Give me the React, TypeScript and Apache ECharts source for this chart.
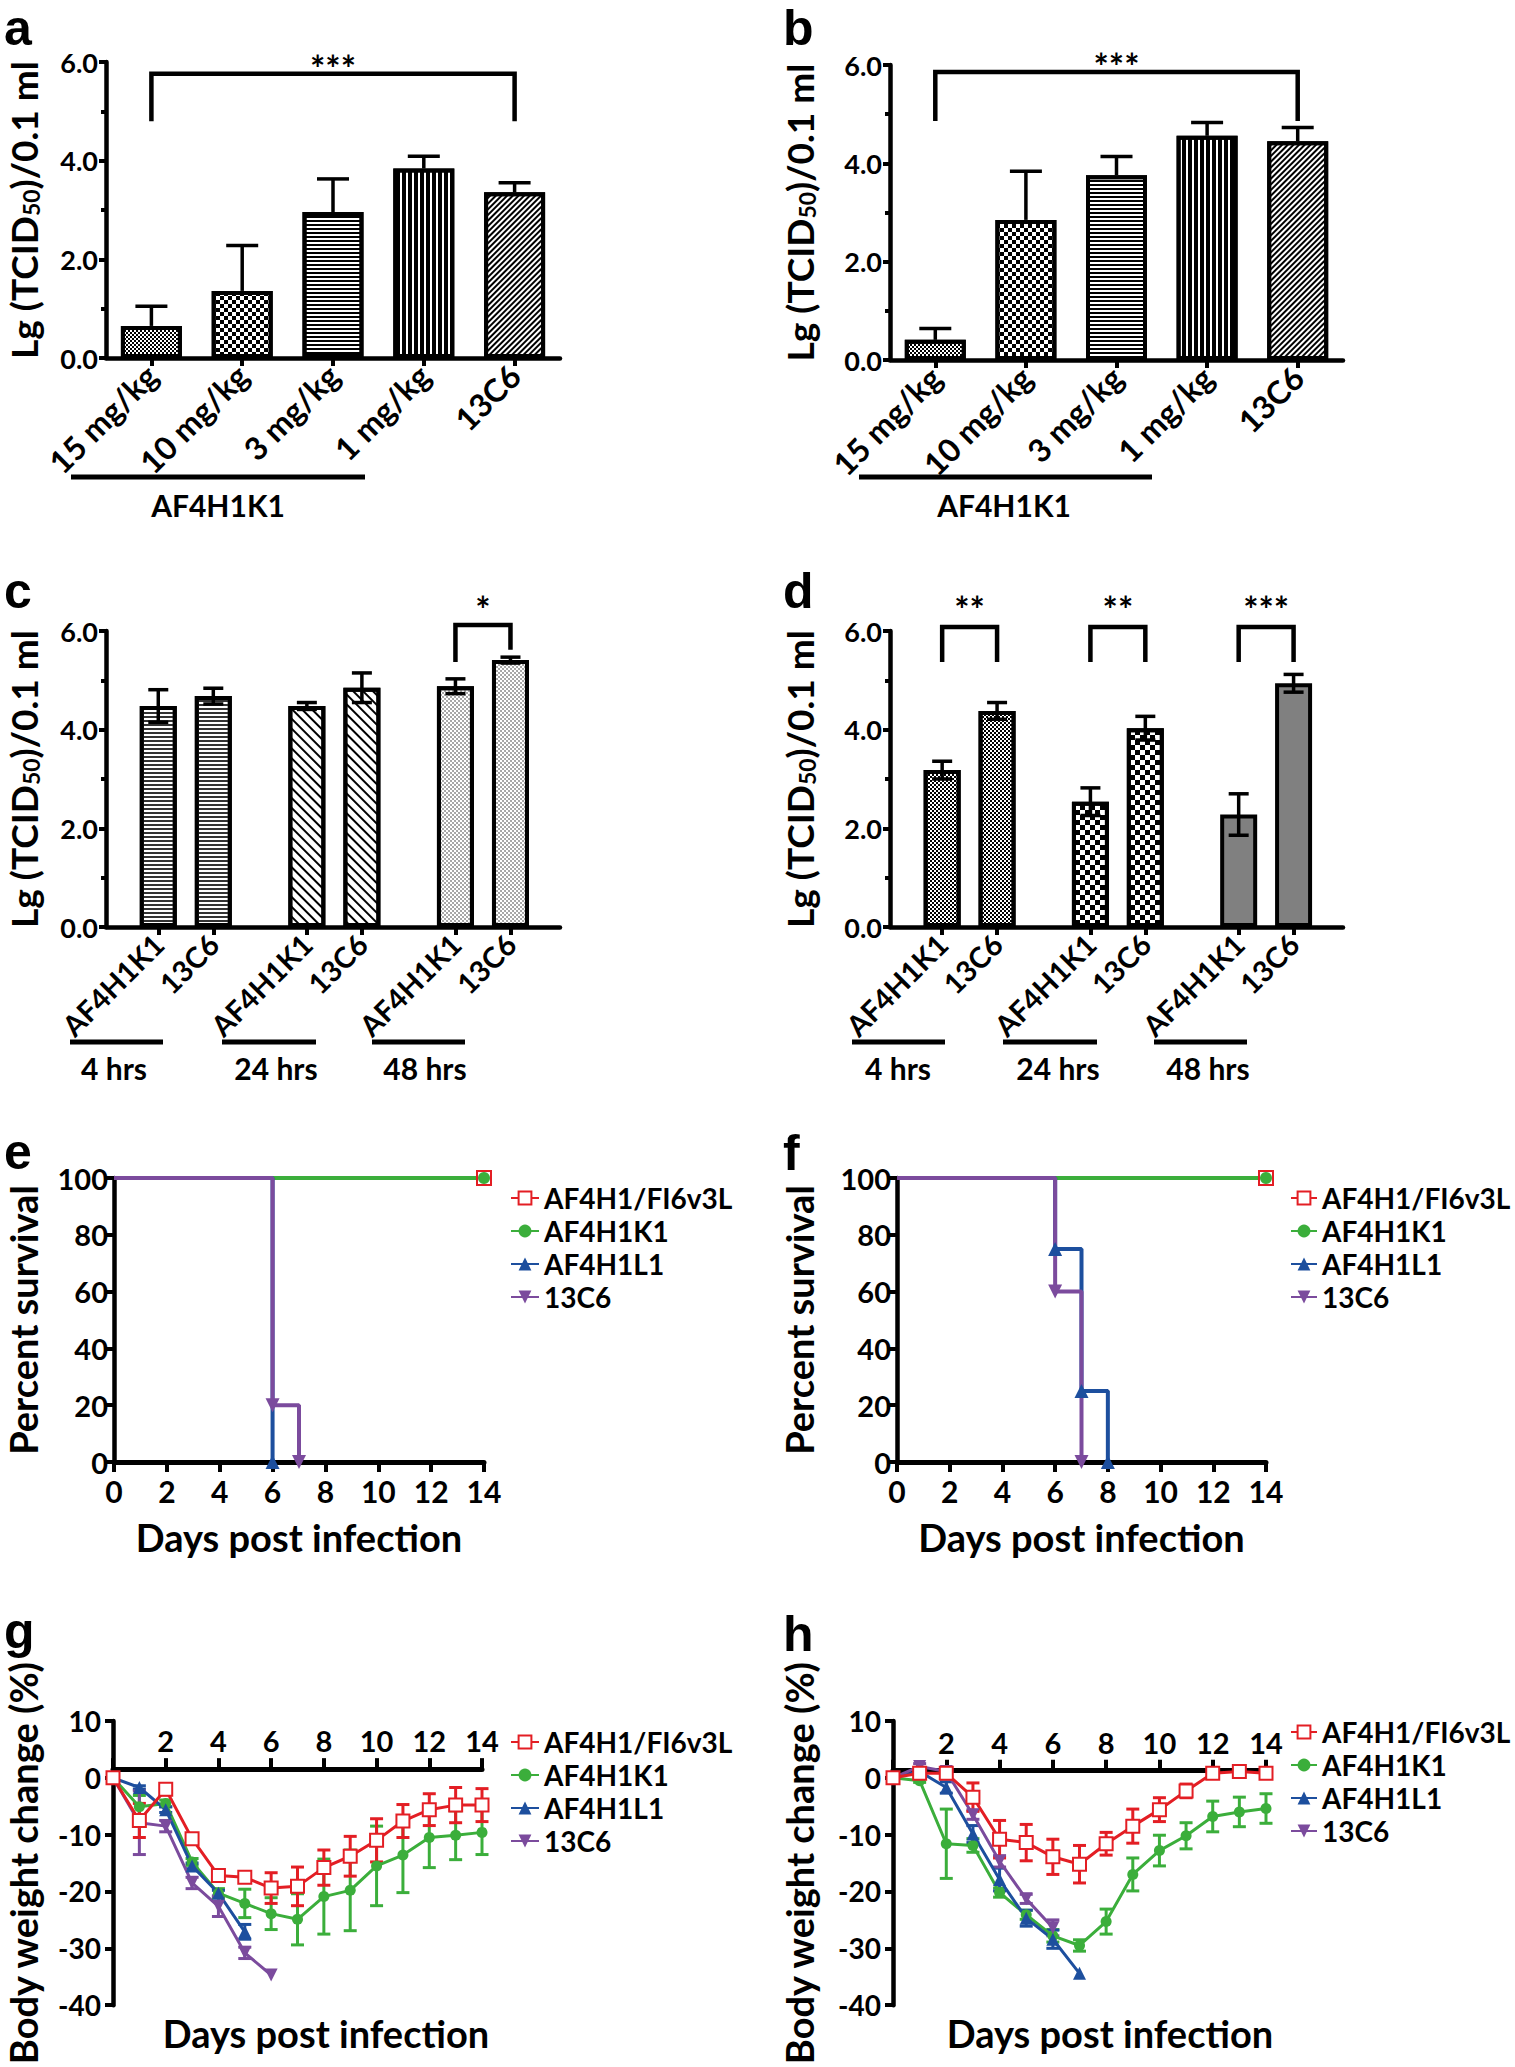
import React, { useEffect, useRef } from 'react';
import * as echarts from 'echarts';

const FONT = 'Lato';
const LETTER_FONT = 'Liberation Sans';
const INK = '#000';

// ---------- panels a & b : dose response ----------
const doseCategories = ['15 mg/kg', '10 mg/kg', '3 mg/kg', '1 mg/kg', '13C6'];
const aMeans = [0.65, 1.36, 2.96, 3.84, 3.36];
const aErrors = [0.4, 0.92, 0.67, 0.25, 0.19];
const bMeans = [0.41, 2.85, 3.76, 4.56, 4.45];
const bErrors = [0.23, 0.99, 0.38, 0.27, 0.28];
// [from category, to category, bracket top, left leg end, right leg end]
const aBrackets = [[0, 4, 5.76, 4.8, 4.8]];
const aStars = ['***'];
const bBrackets = [[0, 4, 5.86, 4.86, 4.86]];
const bStars = ['***'];

// ---------- panels c & d : time course ----------
const timeGroups = ['4 hrs', '24 hrs', '48 hrs'];
const antibodies = ['AF4H1K1', '13C6'];
const cK1Means = [4.48, 4.48, 4.88];
const cK1Errors = [0.33, 0.07, 0.15];
const c13C6Means = [4.68, 4.85, 5.41];
const c13C6Errors = [0.16, 0.3, 0.06];
const dK1Means = [3.18, 2.54, 2.28];
const dK1Errors = [0.18, 0.28, 0.42];
const d13C6Means = [4.38, 4.03, 4.94];
const d13C6Errors = [0.17, 0.24, 0.18];
// [group, bracket top, left leg end, right leg end]
const cBrackets = [[2, 6.12, 5.37, 5.62]];
const cStars = ['*'];
const dBrackets = [
  [0, 6.08, 5.37, 5.37],
  [1, 6.08, 5.37, 5.37],
  [2, 6.08, 5.37, 5.37],
];
const dStars = ['**', '**', '***'];

// ---------- panels e & f : survival ----------
const treatmentNames = ['AF4H1/FI6v3L', 'AF4H1K1', 'AF4H1L1', '13C6'];
const eFI6v3L = [[0, 100], [14, 100]];
const eK1 = [[0, 100], [14, 100]];
const eL1 = [[0, 100], [6, 0]];
const e13C6 = [[0, 100], [6, 20], [7, 0]];
const fFI6v3L = [[0, 100], [14, 100]];
const fK1 = [[0, 100], [14, 100]];
const fL1 = [[0, 100], [6, 75], [7, 25], [8, 0]];
const f13C6 = [[0, 100], [6, 60], [7, 0]];

// ---------- panels g & h : body weight ----------
const weightDays = [0, 1, 2, 3, 4, 5, 6, 7, 8, 9, 10, 11, 12, 13, 14];
const weightMin = -40;
const weightMax = 10;
const gFI6v3L = [0, -7.5, -2, -10.7, -17.2, -17.5, -19.4, -19.1, -15.8, -13.8, -11, -7.6, -5.6, -4.8, -4.8];
const gFI6v3LErr = [0, 3, 1, 0.6, 0.6, 0.8, 2.7, 3.4, 3.1, 3.5, 3.8, 2.9, 2.8, 3.1, 2.9];
const gK1 = [0, -5.1, -4.5, -14.8, -20.3, -22.1, -23.9, -24.9, -20.9, -19.8, -15.5, -13.6, -10.5, -10.1, -9.6];
const gK1Err = [0, 2, 0.6, 0.6, 0.8, 2.5, 2.8, 4.5, 6.6, 7.1, 7, 6.6, 5.3, 4.3, 3.9];
const gL1 = [0, -1.7, -5.6, -15.5, -20.3, -27.1];
const gL1Err = [0, 0.3, 0.5, 0.5, 0.5, 1.3];
const g13C6 = [0, -7.9, -8.5, -18.5, -22.6, -30.8, -34.7];
const g13C6Err = [0, 5.6, 1, 1, 1.8, 1, 0];
const hFI6v3L = [0, 0.8, 0.8, -3.4, -10.8, -11.4, -13.9, -15.2, -11.6, -8.5, -5.6, -2.3, 0.8, 1.1, 0.8];
const hFI6v3LErr = [0, 0.5, 0.5, 2.5, 3.3, 3.2, 3.1, 3.3, 2, 3, 2.1, 1.2, 0.6, 0.6, 0.6];
const hK1 = [0, -0.5, -11.6, -11.9, -20.2, -24.1, -27.8, -29.5, -25.3, -17, -12.8, -10.2, -6.8, -6, -5.4];
const hK1Err = [0, 0.3, 6.1, 1.2, 0.8, 0.8, 1.1, 1, 2.2, 2.9, 2.7, 2.3, 2.7, 2.6, 2.6];
const hL1 = [0, 1.1, -1.7, -9.9, -17.9, -24.7, -28.4, -34.4];
const hL1Err = [0, 0.3, 1, 1.5, 2, 1.4, 1.6, 0];
const h13C6 = [0, 2, 1.1, -6.5, -14.7, -21.3, -26.4];
const h13C6Err = [0, 0.5, 0.5, 0.8, 1, 0.8, 1.4];

// ---------- styling ----------
const seriesStyles = [
  { color: '#e31e24', symbol: 'emptyRect', size: 13, rotate: 0 },
  { color: '#3bae3b', symbol: 'circle', size: 11, rotate: 0 },
  { color: '#1d4f9e', symbol: 'triangle', size: 13, rotate: 0 },
  { color: '#7b4b9d', symbol: 'triangle', size: 13, rotate: 180 },
];

const decal = (o: any) => ({
  symbol: 'rect', symbolSize: 1, symbolKeepAspect: false, color: INK,
  backgroundColor: '#fff', rotation: 0, ...o,
});
const PAT = {
  fineChecker: decal({ dashArrayX: [[2, 2], [0, 2, 2, 0]], dashArrayY: [2, 0] }),
  checker4: decal({ dashArrayX: [[4, 4], [0, 4, 4, 0]], dashArrayY: [4, 0] }),
  checker5: decal({ dashArrayX: [[5, 5], [0, 5, 5, 0]], dashArrayY: [5, 0] }),
  hLines: decal({ backgroundColor: '#d4d4d4', dashArrayX: [1, 0], dashArrayY: [2, 2] }),
  hLinesGray: decal({ color: '#333', backgroundColor: '#e6e6e6', dashArrayX: [1, 0], dashArrayY: [2, 2] }),
  vLines: decal({ dashArrayX: [4, 2], dashArrayY: [1, 0] }),
  diagUp: decal({ backgroundColor: '#cccccc', dashArrayX: [1, 0], dashArrayY: [2, 2], rotation: -Math.PI / 4 }),
  diagDown: decal({ dashArrayX: [1, 0], dashArrayY: [2, 5], rotation: Math.PI / 4 }),
  speckle: decal({ symbol: 'circle', symbolSize: 0.8, color: '#777', dashArrayX: [[2, 2], [0, 2, 2, 0]], dashArrayY: [2, 0] }),
};
const doseDecals = [PAT.fineChecker, PAT.checker4, PAT.hLines, PAT.vLines, PAT.diagUp];
const cDecals = [PAT.hLinesGray, PAT.diagDown, PAT.speckle];
const dDecals = [PAT.fineChecker, PAT.checker5, null];

// c/d bar positions along the value x axis
const groupOffset = 0.95;
const groupStep = 2.7;
const cdMax = 8.25;
const barX = (g: number, m: number) => groupOffset + g * groupStep + m;
const cdPositions = timeGroups.flatMap((_, g) => antibodies.map((__, m) => barX(g, m)));
const cdLabel = (v: number) => {
  const i = cdPositions.findIndex((p) => Math.abs(p - v) < 1e-6);
  return i >= 0 ? antibodies[i % antibodies.length] : '';
};

const lab = (size: number, extra: any = {}) => ({
  color: INK, fontFamily: FONT, fontWeight: 'bold', fontSize: size, ...extra,
});
const axLine = (w = 4.5) => ({ show: true, onZero: false, lineStyle: { color: INK, width: w } });
const tick = (len: number, extra: any = {}) => ({ show: true, length: len, lineStyle: { color: INK, width: 4 }, ...extra });
const noSplit = { show: false };

const tcidName = '{m|Lg (TCID}{s|50}{m|)/0.1 ml}';
const tcidNameStyle = {
  rich: {
    m: { ...lab(37), lineHeight: 38 },
    s: { ...lab(23), lineHeight: 19, verticalAlign: 'bottom' },
  },
};

const txt = (text: string, x: number, y: number, size: number, align = 'center', family = FONT, vAlign = 'middle') => ({
  type: 'text', x, y, silent: true,
  style: {
    text, fill: INK, fontSize: size, fontFamily: family, fontWeight: 'bold',
    align, verticalAlign: vAlign, textAlign: align, textVerticalAlign: vAlign,
  },
});
const letter = (t: string, x: number, y: number) => txt(t, x, y, 50, 'left', LETTER_FONT, 'top');
const hline = (x1: number, x2: number, y: number) => ({
  type: 'line', silent: true, shape: { x1, y1: y, x2, y2: y }, style: { stroke: INK, lineWidth: 5 },
});

function errRender(capW: number, lw: number, color: string, both: boolean) {
  return (params: any, api: any) => {
    const x = api.value(0);
    const m = api.value(1);
    const e = api.value(2);
    const top = api.coord([x, m + e]);
    const bot = api.coord([x, both ? m - e : m]);
    const h = capW / 2;
    const st = { stroke: color, lineWidth: lw };
    const children: any[] = [
      { type: 'line', shape: { x1: top[0], y1: top[1], x2: bot[0], y2: bot[1] }, style: st },
      { type: 'line', shape: { x1: top[0] - h, y1: top[1], x2: top[0] + h, y2: top[1] }, style: st },
    ];
    if (both) children.push({ type: 'line', shape: { x1: bot[0] - h, y1: bot[1], x2: bot[0] + h, y2: bot[1] }, style: st });
    return { type: 'group', children };
  };
}

function bracketRender(stars: string[], lift: number) {
  return (params: any, api: any) => {
    const x1 = api.value(0);
    const x2 = api.value(1);
    const yt = api.value(2);
    const pl = api.coord([x1, api.value(3)]);
    const tl = api.coord([x1, yt]);
    const tr = api.coord([x2, yt]);
    const pr = api.coord([x2, api.value(4)]);
    return {
      type: 'group',
      children: [
        { type: 'polyline', shape: { points: [pl, tl, tr, pr] }, style: { stroke: INK, lineWidth: 4.5, fill: null } },
        {
          type: 'text', x: (tl[0] + tr[0]) / 2, y: tl[1] - lift,
          style: {
            text: stars[params.dataIndex], fill: INK, fontSize: 36, fontFamily: FONT, fontWeight: 'bold',
            align: 'center', verticalAlign: 'middle', textAlign: 'center', textVerticalAlign: 'middle',
          },
        },
      ],
    };
  };
}

function buildOption() {
  const grids = [
    { left: 106, top: 62, width: 454, height: 296 },
    { left: 890, top: 65, width: 453, height: 295 },
    { left: 106, top: 631, width: 454, height: 296 },
    { left: 890, top: 631, width: 453, height: 296 },
    { left: 114, top: 1178, width: 370, height: 284 },
    { left: 897, top: 1178, width: 369, height: 284 },
    { left: 113, top: 1721, width: 369, height: 295 },
    { left: 893, top: 1721, width: 373, height: 293 },
  ];

  const catX = (gi: number) => ({
    gridIndex: gi, type: 'category', data: doseCategories,
    axisLine: axLine(), axisTick: tick(8, { alignWithLabel: true }),
    axisLabel: lab(32, { rotate: 45, interval: 0, margin: 12 }), splitLine: noSplit,
  });
  const cdX = (gi: number) => ({
    gridIndex: gi, type: 'value', min: 0, max: cdMax,
    axisLine: axLine(), axisTick: tick(8, { customValues: cdPositions }),
    axisLabel: lab(29, { rotate: 45, margin: 12, customValues: cdPositions, formatter: cdLabel }),
    splitLine: noSplit,
  });
  const survX = (gi: number) => ({
    gridIndex: gi, type: 'value', min: 0, max: 14, interval: 2,
    axisLine: axLine(5), axisTick: tick(10), axisLabel: lab(30, { margin: 14 }), splitLine: noSplit,
    name: 'Days post infection', nameLocation: 'middle', nameGap: 56, nameTextStyle: lab(38),
  });
  // x axis of the weight panels is lifted to the y = 0 level
  const weightX = (gi: number) => {
    const h = grids[gi].height;
    return {
      gridIndex: gi, type: 'value', min: 0, max: 14, interval: 2,
      offset: -h * (0 - weightMin) / (weightMax - weightMin),
      axisLine: axLine(5), axisTick: tick(11, { inside: true }),
      axisLabel: lab(29, { inside: true, margin: 14, formatter: (v: number) => (v === 0 ? '' : String(v)) }),
      splitLine: noSplit,
    };
  };
  const titerY = (gi: number, gap: number) => ({
    gridIndex: gi, type: 'value', min: 0, max: 6, interval: 2,
    axisLine: axLine(), axisTick: tick(7),
    minorTick: { show: true, splitNumber: 2, length: 5, lineStyle: { color: INK, width: 4 } },
    splitLine: noSplit, minorSplitLine: noSplit,
    axisLabel: lab(27, { margin: 8, formatter: (v: number) => v.toFixed(1) }),
    name: tcidName, nameLocation: 'middle', nameRotate: 90, nameGap: gap, nameTextStyle: tcidNameStyle,
  });
  const survY = (gi: number, gap: number) => ({
    gridIndex: gi, type: 'value', min: 0, max: 100, interval: 20,
    axisLine: axLine(), axisTick: tick(8), splitLine: noSplit, axisLabel: lab(29, { margin: 6 }),
    name: 'Percent survival', nameLocation: 'middle', nameRotate: 90, nameGap: gap,
    nameTextStyle: lab(38, { lineHeight: 38 }),
  });
  const weightY = (gi: number, gap: number) => ({
    gridIndex: gi, type: 'value', min: weightMin, max: weightMax, interval: 10,
    axisLine: axLine(), axisTick: tick(8), splitLine: noSplit, axisLabel: lab(28, { margin: 12 }),
    name: 'Body weight change (%)', nameLocation: 'middle', nameRotate: 90, nameGap: gap,
    nameTextStyle: lab(38, { lineHeight: 38 }),
  });

  const barStyle = { color: '#fff', borderColor: INK, borderWidth: 4 };

  const doseBars = (gi: number, means: number[], name: string) => ({
    type: 'bar', name, xAxisIndex: gi, yAxisIndex: gi, barWidth: 61, silent: true,
    itemStyle: barStyle,
    data: means.map((v, i) => ({ value: v, itemStyle: { decal: doseDecals[i] } })),
  });
  const doseErr = (gi: number, means: number[], errs: number[]) => ({
    type: 'custom', xAxisIndex: gi, yAxisIndex: gi, silent: true, z: 4,
    renderItem: errRender(32, 3.5, INK, false),
    data: means.map((v, i) => [i, v, errs[i]]),
  });

  const cdBars = (gi: number, k1: number[], c6: number[], decals: any[], name: string) => ({
    type: 'bar', name, xAxisIndex: gi, yAxisIndex: gi, barWidth: 37, silent: true,
    itemStyle: barStyle,
    data: timeGroups.flatMap((_, g) => [k1[g], c6[g]].map((v, m) => ({
      value: [barX(g, m), v],
      itemStyle: decals[g] ? { decal: decals[g] } : { color: '#808080' },
    }))),
  });
  const cdErr = (gi: number, k1: number[], k1e: number[], c6: number[], c6e: number[]) => ({
    type: 'custom', xAxisIndex: gi, yAxisIndex: gi, silent: true, z: 4,
    renderItem: errRender(20, 3.5, INK, true),
    data: timeGroups.flatMap((_, g) => [[barX(g, 0), k1[g], k1e[g]], [barX(g, 1), c6[g], c6e[g]]]),
  });
  const cdBracket = (gi: number, rows: number[][], stars: string[], lift: number) => ({
    type: 'custom', xAxisIndex: gi, yAxisIndex: gi, silent: true, z: 4,
    renderItem: bracketRender(stars, lift),
    data: rows.map((r) => [barX(r[0], 0), barX(r[0], 1), r[1], r[2], r[3]]),
  });

  const surv = (gi: number, k: number, data: number[][]) => {
    const s = seriesStyles[k];
    return {
      type: 'line', name: treatmentNames[k], xAxisIndex: gi, yAxisIndex: gi, step: 'end', silent: true,
      symbol: s.symbol, symbolSize: s.size + 1, symbolRotate: s.rotate,
      lineStyle: { color: s.color, width: 4 }, itemStyle: { color: s.color, borderWidth: 2.5 },
      data: data.map((p, i) => (i === 0 ? { value: p, symbol: 'none' } : { value: p })),
    };
  };
  const weight = (gi: number, k: number, vals: number[]) => {
    const s = seriesStyles[k];
    return {
      type: 'line', name: treatmentNames[k], xAxisIndex: gi, yAxisIndex: gi, silent: true,
      symbol: s.symbol, symbolSize: s.size, symbolRotate: s.rotate,
      lineStyle: { color: s.color, width: 3 }, itemStyle: { color: s.color, borderWidth: 2.5 },
      data: vals.map((v, i) => [weightDays[i], v]),
    };
  };
  const weightErr = (gi: number, k: number, vals: number[], errs: number[]) => ({
    type: 'custom', xAxisIndex: gi, yAxisIndex: gi, silent: true, z: 3,
    renderItem: errRender(13, 3, seriesStyles[k].color, true),
    data: vals.map((v, i) => [weightDays[i], v, errs[i]]).filter((r) => r[2] > 0),
  });

  const legend = (left: number, top: number, iconW: number) => ({
    orient: 'vertical', left, top, padding: 0, itemWidth: iconW, itemHeight: 16, itemGap: 5,
    selectedMode: false, data: treatmentNames,
    textStyle: { ...lab(28), lineHeight: 28 },
  });

  const series: any[] = [
    // e
    surv(4, 0, eFI6v3L), surv(4, 1, eK1), surv(4, 2, eL1), surv(4, 3, e13C6),
    // f
    surv(5, 0, fFI6v3L), surv(5, 1, fK1), surv(5, 2, fL1), surv(5, 3, f13C6),
    // g
    weight(6, 1, gK1), weight(6, 2, gL1), weight(6, 3, g13C6), weight(6, 0, gFI6v3L),
    weightErr(6, 1, gK1, gK1Err), weightErr(6, 2, gL1, gL1Err), weightErr(6, 3, g13C6, g13C6Err), weightErr(6, 0, gFI6v3L, gFI6v3LErr),
    // h
    weight(7, 1, hK1), weight(7, 2, hL1), weight(7, 3, h13C6), weight(7, 0, hFI6v3L),
    weightErr(7, 1, hK1, hK1Err), weightErr(7, 2, hL1, hL1Err), weightErr(7, 3, h13C6, h13C6Err), weightErr(7, 0, hFI6v3L, hFI6v3LErr),
    // a
    doseBars(0, aMeans, 'titer a'), doseErr(0, aMeans, aErrors),
    { type: 'custom', xAxisIndex: 0, yAxisIndex: 0, silent: true, z: 4, renderItem: bracketRender(aStars, 6), data: aBrackets },
    // b
    doseBars(1, bMeans, 'titer b'), doseErr(1, bMeans, bErrors),
    { type: 'custom', xAxisIndex: 1, yAxisIndex: 1, silent: true, z: 4, renderItem: bracketRender(bStars, 6), data: bBrackets },
    // c
    cdBars(2, cK1Means, c13C6Means, cDecals, 'titer c'), cdErr(2, cK1Means, cK1Errors, c13C6Means, c13C6Errors),
    cdBracket(2, cBrackets, cStars, 16),
    // d
    cdBars(3, dK1Means, d13C6Means, dDecals, 'titer d'), cdErr(3, dK1Means, dK1Errors, d13C6Means, d13C6Errors),
    cdBracket(3, dBrackets, dStars, 18),
  ];

  const graphics: any[] = [
    letter('a', 4, 3),
    letter('b', 783, 3),
    letter('c', 4, 566),
    letter('d', 783, 566),
    letter('e', 4, 1127),
    letter('f', 783, 1128),
    letter('g', 4, 1606),
    letter('h', 783, 1609),
    hline(71, 365, 477), txt('AF4H1K1', 218, 505, 30),
    hline(859, 1152, 477), txt('AF4H1K1', 1004, 505, 30),
    hline(70, 163, 1042), hline(222, 316, 1042), hline(372, 465, 1042),
    txt(timeGroups[0], 114, 1068, 30), txt(timeGroups[1], 276, 1068, 30), txt(timeGroups[2], 425, 1068, 30),
    hline(852, 945, 1042), hline(1003, 1097, 1042), hline(1154, 1247, 1042),
    txt(timeGroups[0], 898, 1068, 30), txt(timeGroups[1], 1058, 1068, 30), txt(timeGroups[2], 1208, 1068, 30),
    txt('Days post infection', 326, 2033, 38),
    txt('Days post infection', 1110, 2033, 38),
  ];

  return {
    animation: false,
    backgroundColor: '#fff',
    grid: grids,
    xAxis: [catX(0), catX(1), cdX(2), cdX(3), survX(4), survX(5), weightX(6), weightX(7)],
    yAxis: [titerY(0, 64), titerY(1, 72), titerY(2, 64), titerY(3, 72), survY(4, 72), survY(5, 79), weightY(6, 71), weightY(7, 75)],
    legend: [legend(510, 1184, 28), legend(1290, 1184, 26), legend(510, 1728, 28), legend(1290, 1718, 26)],
    series,
    graphic: { elements: graphics },
  };
}

export default function App() {
  const ref = useRef<HTMLDivElement>(null);
  useEffect(() => {
    document.body.style.margin = '0';
    if (!ref.current) return;
    const chart = echarts.init(ref.current, null, { renderer: 'svg', width: 1515, height: 2067 });
    chart.setOption(buildOption() as any);
    return () => chart.dispose();
  }, []);
  return <div ref={ref} style={{ width: 1515, height: 2067 }} />;
}
